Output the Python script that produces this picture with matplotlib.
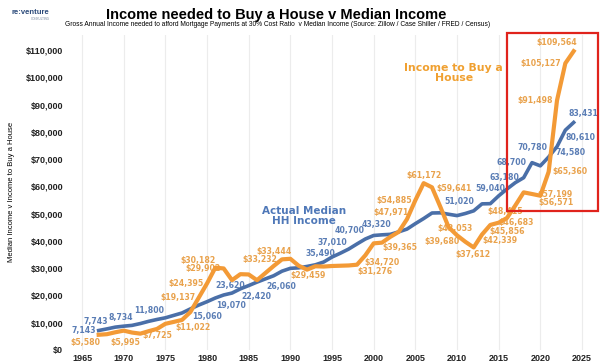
import numpy as np
import matplotlib.pyplot as plt
from matplotlib.patches import Rectangle

plt.rcParams['font.family'] = ['Liberation Sans', 'DejaVu Sans']

# ==================== data ====================
years = np.arange(1967, 2025)

# actual median household income (nominal $)
median_income = [
    7143, 7743, 8389, 8734, 9028, 9697, 10512, 11197, 11800, 12686,
    13572, 15060, 16461, 17710, 19070, 20171, 20885, 22420, 23620, 24897,
    26060, 27225, 28906, 29943, 30126, 30636, 31241, 32264, 34076, 35490,
    37010, 38885, 40700, 41990, 42228, 42409, 43320, 44334, 46326, 48201,
    50233, 50303, 49777, 49276, 50054, 51020, 53585, 53657, 56516, 59040,
    61372, 63180, 68700, 67521, 70780, 74580, 80610, 83431,
]

# gross income needed to afford the mortgage payment at a 30% cost ratio
income_needed = [
    5580, 5800, 6500, 7100, 6400, 5995, 6900, 7725, 9600, 10300,
    11022, 13900, 19137, 24395, 30182, 29902, 25600, 27800, 27700, 25600,
    28200, 30800, 33232, 33444, 30900, 29459, 30700, 30600, 30800, 30900,
    31000, 31276, 34720, 39100, 39365, 41500, 43300, 47971, 54885, 61172,
    59641, 52500, 45000, 42053, 39680, 37612, 42339, 45856, 46683, 48415,
    53000, 57800, 57199, 56571, 65360, 91498, 105127, 109564,
]

# years that carry a value label, with label offsets (pixels, y up)
median_labels = {
    1967: (-15, 0), 1968: (-11, 7), 1970: (-3, 9), 1975: (-16, 7),
    1978: (17, -8), 1981: (16, -8), 1984: (16, -8), 1985: (-18, 0),
    1987: (16, -8), 1996: (-20, 0), 1997: (-16, 7), 1999: (-16, 9),
    2003: (-22, 7), 2012: (-14, 9), 2016: (-17, 0), 2018: (-19, 0),
    2019: (-20, 0), 2021: (-16, 9), 2022: (14, -6), 2023: (15, -7),
    2024: (10, 9),
}
needed_labels = {
    1967: (-13, -8), 1972: (-15, -9), 1974: (0, -7), 1977: (11, -8),
    1979: (-21, 0), 1980: (-21, 0), 1981: (-17, 7), 1982: (-21, 0),
    1989: (-22, 0), 1990: (-16, 7), 1992: (1, -6), 1998: (18, -7),
    1999: (17, -7), 2001: (18, -5), 2004: (-16, 7), 2005: (-21, 0),
    2006: (0, 8), 2007: (22, -1), 2010: (-2, 7), 2011: (-23, 0),
    2012: (-1, -7), 2013: (18, -6), 2014: (17, -7), 2015: (17, 0),
    2016: (-2, 6), 2019: (23, 0), 2020: (16, -7), 2021: (21, 0),
    2022: (-22, 0), 2023: (-25, 0), 2024: (-17, 9),
}

BLUE = '#4a6fa8'
BLUE_TXT = '#5a7db5'
ORANGE = '#f39a36'
ORANGE_TXT = '#e9a24c'

# ==================== plot ====================
fig = plt.figure(figsize=(6, 3.64), dpi=100)
ax = fig.add_axes([70 / 600, 14 / 364, 525 / 600, 315 / 364])

ax.plot(years, median_income, color=BLUE, lw=2.6, zorder=3)
ax.plot(years, income_needed, color=ORANGE, lw=3.0, zorder=4)

lbl_font = dict(family='DejaVu Sans', fontsize=5.6, fontweight='bold',
                ha='center', va='center', zorder=2)
for yr, (dx, dy) in median_labels.items():
    v = median_income[yr - years[0]]
    ax.annotate(f'{v:,}', (yr, v), xytext=(dx, dy), textcoords='offset pixels',
                color=BLUE_TXT, **lbl_font)
for yr, (dx, dy) in needed_labels.items():
    v = income_needed[yr - years[0]]
    ax.annotate(f'${v:,}', (yr, v), xytext=(dx, dy), textcoords='offset pixels',
                color=ORANGE_TXT, **lbl_font)

ax.text(1991.6, 49100, 'Actual Median\nHH Income', color='#4f78b8',
        family='DejaVu Sans', fontsize=7.5, fontweight='bold',
        ha='center', va='center', linespacing=0.9)
ax.text(2009.6, 101600, 'Income to Buy a\nHouse', color='#f0a030',
        family='DejaVu Sans', fontsize=7.8, fontweight='bold',
        ha='center', va='center', linespacing=0.9)

ax.set_xlim(1963.56, 2026.56)
ax.set_ylim(0, 115500)
ax.set_xticks(range(1965, 2030, 5))
ax.set_yticks(range(0, 120000, 10000))
ax.yaxis.set_major_formatter(lambda v, p: f'${v:,.0f}')
for s in ax.spines.values():
    s.set_visible(False)
ax.tick_params(axis='both', length=0, labelsize=6.5)
ax.tick_params(axis='y', pad=5)
ax.tick_params(axis='x', pad=3)
for t in ax.get_xticklabels() + ax.get_yticklabels():
    t.set_fontweight('bold')
    t.set_color('#222222')
ax.grid(axis='x', color='#ececec', lw=0.8)
ax.grid(axis='y', visible=False)
ax.set_axisbelow(True)

ax.set_ylabel('Median Income v Income to Buy a House', fontsize=5.5)
ax.yaxis.set_label_coords(-55 / 525, (350 - 192) / 315)

# titles and logo
fig.text(276 / 600, 1 - 15 / 364, 'Income needed to Buy a House v Median Income',
         ha='center', va='center', fontsize=10.5, fontweight='bold')
fig.text(278 / 600, 1 - 25 / 364,
         'Gross Annual Income needed to afford Mortgage Payments at 30% Cost Ratio  '
         'v Median Income (Source: Zillow / Case Shiller / FRED / Census)',
         ha='center', va='center', fontsize=4.8)
fig.text(12 / 600, 1 - 13 / 364, 're:venture', ha='left', va='center',
         fontsize=5.5, fontweight='bold', color='#2b4a7a')
fig.text(50 / 600, 1 - 19 / 364, 'CONSULTING', ha='right', va='center',
         fontsize=2.2, color='#7a8aa0')

# highlight box around the recent spike
fig.patches.append(Rectangle((507 / 600, 1 - 211 / 364), 91 / 600, 178 / 364,
                             transform=fig.transFigure, fill=False,
                             edgecolor='#e0231c', lw=1.6, zorder=10))

fig.savefig('out.png', dpi=100)
